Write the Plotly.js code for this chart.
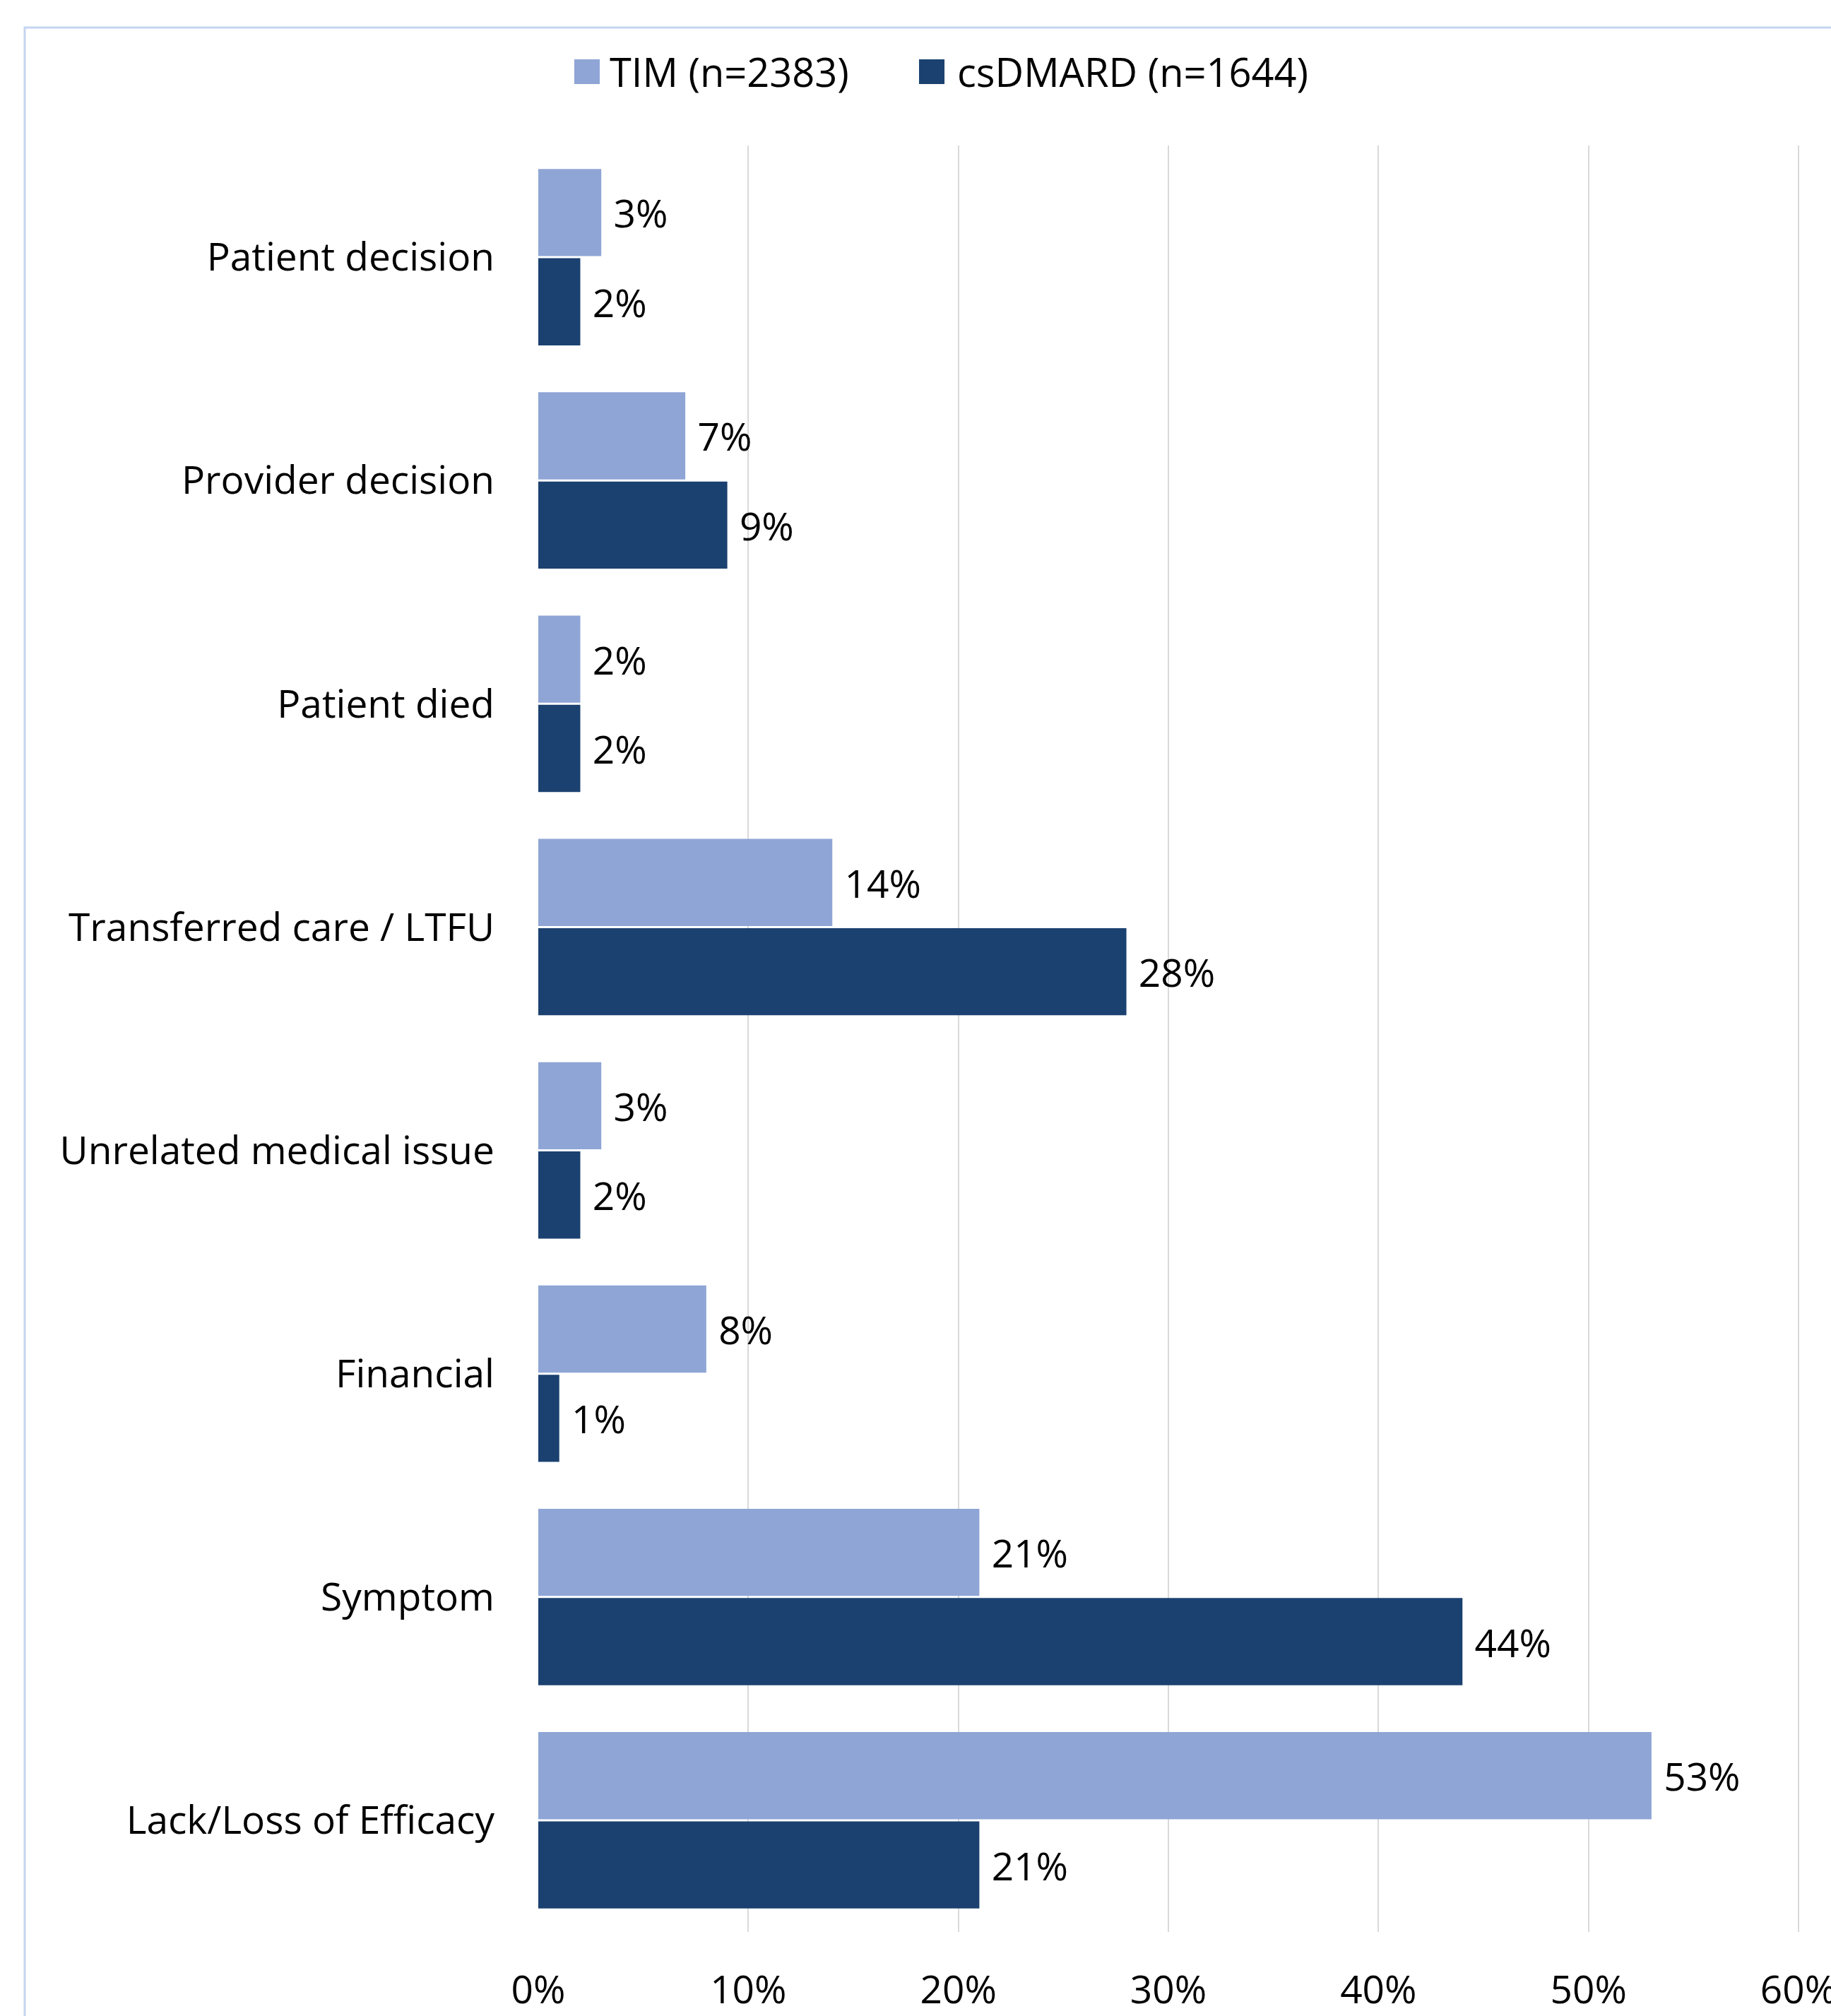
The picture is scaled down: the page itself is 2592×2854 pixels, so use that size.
<!DOCTYPE html>
<html>
<head>
<meta charset="utf-8">
<script src="https://cdn.plot.ly/plotly-3.0.1.min.js"></script>
<style>html,body{margin:0;padding:0;background:#fff;}</style>
</head>
<body>
<div id="chart" style="width:2592px;height:2854px;"></div>
<script>
const categories = ["Patient decision", "Provider decision", "Patient died", "Transferred care / LTFU", "Unrelated medical issue", "Financial", "Symptom", "Lack/Loss of Efficacy"];
const seriesNames = ["TIM (n=2383)", "csDMARD (n=1644)"];
const timValues = [3, 7, 2, 14, 3, 8, 21, 53];
const csdmardValues = [2, 9, 2, 28, 2, 1, 44, 21];
const xTickValues = [0, 10, 20, 30, 40, 50, 60];
const xTickLabels = ["0%", "10%", "20%", "30%", "40%", "50%", "60%"];
const colors = ["#8FA5D6", "#1B4170"];

const W = 2592, H = 2854;
const XMAX = 60.1;
const L = 762, R = 762 + 1784 * XMAX / 60, T = 206, B = 2735;
const xp = px => (px - L) / (R - L);
const yp = py => (B - py) / (B - T);

const FONT = "'Open Sans', Lato, sans-serif";
const FS = 55;

const traces = [timValues, csdmardValues].map((vals, i) => ({
  type: "bar",
  orientation: "h",
  name: seriesNames[i],
  x: vals,
  y: categories,
  marker: {color: colors[i], line: {width: 0}},
  texttemplate: "\u00A0%{x}%",
  textposition: "outside",
  textfont: {family: FONT, size: FS, color: "#000"},
  cliponaxis: false,
  showlegend: false,
  hoverinfo: "skip"
}));

const legendShapes = [], legendAnns = [];
const swatchX = [813, 1301];
const textX = [861, 1353];
seriesNames.forEach((n, i) => {
  legendShapes.push({type: "rect", xref: "paper", yref: "paper",
    x0: xp(swatchX[i]), x1: xp(swatchX[i] + 36), y0: yp(119), y1: yp(84),
    fillcolor: colors[i], line: {width: 0}});
  legendAnns.push({xref: "paper", yref: "paper", x: xp(textX[i]), y: yp(101),
    xanchor: "left", yanchor: "middle", showarrow: false, text: n,
    font: {family: FONT, size: 56, color: "#000"}});
});

const layout = {
  width: W, height: H,
  margin: {l: L, r: W - R, t: T, b: H - B, pad: 0},
  paper_bgcolor: "#fff", plot_bgcolor: "#fff",
  barmode: "group", bargap: 0.2, bargroupgap: 0.024,
  font: {family: FONT, size: FS, color: "#000"},
  xaxis: {
    range: [0, XMAX], tickvals: xTickValues, ticktext: xTickLabels,
    showgrid: true, gridcolor: "#D9D9D9", gridwidth: 2,
    zeroline: false, showline: false,
    ticks: "outside", ticklen: 34, tickcolor: "rgba(0,0,0,0)",
    ticklabeloverflow: "allow",
    tickfont: {family: FONT, size: FS, color: "#000"}
  },
  yaxis: {
    autorange: "reversed", type: "category",
    showgrid: false, zeroline: false, showline: false,
    ticks: "outside", ticklen: 50, tickcolor: "rgba(0,0,0,0)",
    tickfont: {family: FONT, size: FS, color: "#000"}
  },
  shapes: [{type: "rect", xref: "paper", yref: "paper",
    x0: xp(35), x1: xp(2800), y0: yp(3100), y1: yp(39),
    line: {color: "#C5D5F0", width: 3}, fillcolor: "rgba(0,0,0,0)", layer: "below"}].concat(legendShapes),
  annotations: legendAnns
};

Plotly.newPlot("chart", traces, layout, {displayModeBar: false, staticPlot: true});
</script>
</body>
</html>
